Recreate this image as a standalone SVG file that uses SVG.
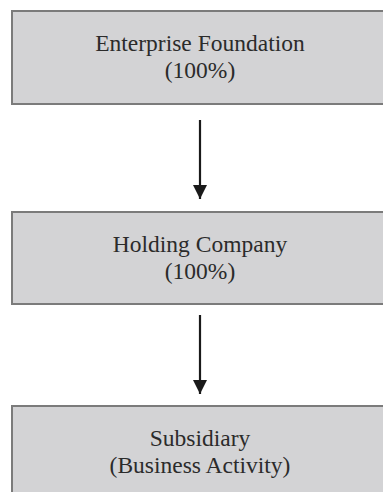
<svg xmlns="http://www.w3.org/2000/svg" width="383" height="492" viewBox="0 0 383 492">
  <style>
    .box { fill: #d3d3d5; stroke: #7b7b7b; stroke-width: 2; }
    .label { font-family: "Liberation Serif", "Times New Roman", serif; font-size: 23.5px; fill: #2b2b2b; text-anchor: middle; }
    .link { stroke: #1a1a1a; stroke-width: 2.2; fill: none; }
  </style>
  <defs>
    <!-- arrowhead drawn pointing along +x so orient="auto" turns it with the line -->
    <marker id="arrowhead" markerWidth="14" markerHeight="14" refX="14" refY="7" orient="auto" markerUnits="userSpaceOnUse" viewBox="0 0 14 14">
      <path d="M0,0 L14,7 L0,14 Z" fill="#1a1a1a"/>
    </marker>
  </defs>
  <rect width="383" height="492" fill="#ffffff"/>

  <g id="connectors">
    <path class="link" d="M200,120 V199" marker-end="url(#arrowhead)"/>
    <path class="link" d="M200,315 V394" marker-end="url(#arrowhead)"/>
  </g>

  <g id="enterprise-foundation">
    <rect class="box" x="12" y="11" width="380" height="93"/>
    <text class="label" x="200" y="51">Enterprise Foundation</text>
    <text class="label" x="200" y="78">(100%)</text>
  </g>

  <g id="holding-company">
    <rect class="box" x="12" y="212" width="380" height="92"/>
    <text class="label" x="200" y="252">Holding Company</text>
    <text class="label" x="200" y="279">(100%)</text>
  </g>

  <g id="subsidiary">
    <rect class="box" x="12" y="406" width="380" height="100"/>
    <text class="label" x="200" y="446">Subsidiary</text>
    <text class="label" x="200" y="473">(Business Activity)</text>
  </g>
</svg>
